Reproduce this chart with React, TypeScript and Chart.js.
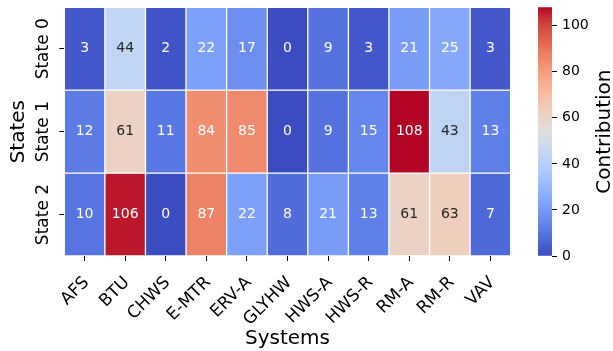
import { useEffect, useRef } from "react";
import { Chart, registerables } from "chart.js";

Chart.register(...registerables);

// ---- data ----
const systems = ["AFS", "BTU", "CHWS", "E-MTR", "ERV-A", "GLYHW", "HWS-A", "HWS-R", "RM-A", "RM-R", "VAV"];
const states = ["State 0", "State 1", "State 2"];
const state0Values = [3, 44, 2, 22, 17, 0, 9, 3, 21, 25, 3];
const state1Values = [12, 61, 11, 84, 85, 0, 9, 15, 108, 43, 13];
const state2Values = [10, 106, 0, 87, 22, 8, 21, 13, 61, 63, 7];
const heatRows = [state0Values, state1Values, state2Values];
const colorMin = 0;
const colorMax = 108;
const colorbarTicks = [0, 20, 40, 60, 80, 100];

// ---- layout / style ----
const WIDTH = 613;
const HEIGHT = 351;
const FONT = "'DejaVu Sans', 'Liberation Sans', sans-serif";
const INK = "#000000";
const DARK_ANNOT = "#262626";

// coolwarm colormap stops (blue -> grey -> red)
const COOLWARM: [number, number, number][] = [
  [59, 76, 192], [68, 90, 204], [77, 104, 215], [87, 117, 225], [98, 130, 234],
  [108, 142, 241], [119, 154, 247], [130, 165, 251], [141, 176, 254], [152, 185, 255],
  [163, 194, 255], [174, 201, 253], [184, 208, 249], [194, 213, 244], [204, 217, 238],
  [213, 219, 230], [221, 221, 221], [229, 216, 209], [236, 211, 197], [241, 204, 185],
  [245, 196, 173], [247, 187, 160], [247, 177, 148], [247, 166, 135], [244, 154, 123],
  [241, 141, 111], [236, 127, 99], [229, 112, 88], [222, 96, 77], [213, 80, 66],
  [203, 62, 56], [192, 40, 47], [180, 4, 38],
];

function coolwarm(t: number): [number, number, number] {
  const c = Math.min(1, Math.max(0, t)) * (COOLWARM.length - 1);
  const i = Math.min(Math.floor(c), COOLWARM.length - 2);
  const f = c - i;
  const a = COOLWARM[i];
  const b = COOLWARM[i + 1];
  return [a[0] + (b[0] - a[0]) * f, a[1] + (b[1] - a[1]) * f, a[2] + (b[2] - a[2]) * f];
}

function rgb(c: [number, number, number]): string {
  return `rgb(${Math.round(c[0])}, ${Math.round(c[1])}, ${Math.round(c[2])})`;
}

function luminance(c: [number, number, number]): number {
  const lin = c.map((v) => {
    const s = v / 255;
    return s <= 0.03928 ? s / 12.92 : Math.pow((s + 0.055) / 1.055, 2.4);
  });
  return 0.2126 * lin[0] + 0.7152 * lin[1] + 0.0722 * lin[2];
}

const norm = (v: number) => (v - colorMin) / (colorMax - colorMin);

// value annotations plus rotated tick labels for the heatmap
const heatText = {
  id: "heatText",
  afterDatasetsDraw(chart: any) {
    const { ctx } = chart;
    ctx.save();
    ctx.font = `14px ${FONT}`;
    ctx.textAlign = "center";
    ctx.textBaseline = "middle";
    heatRows.forEach((vals, r) => {
      const meta = chart.getDatasetMeta(r);
      meta.data.forEach((el: any, c: number) => {
        const p = el.getCenterPoint();
        const col = coolwarm(norm(vals[c]));
        ctx.fillStyle = luminance(col) > 0.55 ? DARK_ANNOT : "#ffffff";
        ctx.fillText(String(vals[c]), p.x, p.y);
      });
    });
    ctx.restore();
  },
  afterDraw(chart: any) {
    const { ctx } = chart;
    const xs = chart.scales.x;
    const ys = chart.scales.y;
    ctx.save();
    ctx.fillStyle = INK;
    ctx.font = `17px ${FONT}`;
    ctx.textBaseline = "alphabetic";
    ctx.textAlign = "right";
    systems.forEach((name, i) => {
      const x = xs.getPixelForTick(i);
      ctx.save();
      ctx.translate(x + 5, xs.top + 27);
      ctx.rotate(-Math.PI / 4);
      ctx.fillText(name, 0, 0);
      ctx.restore();
    });
    ctx.textAlign = "center";
    states.forEach((name, i) => {
      const y = ys.getPixelForValue(i);
      ctx.save();
      ctx.translate(ys.right - 16, y);
      ctx.rotate(-Math.PI / 2);
      ctx.fillText(name, 0, 0);
      ctx.restore();
    });
    ctx.restore();
  },
};

// colorbar label, reading bottom to top
const colorbarTitle = {
  id: "colorbarTitle",
  afterDraw(chart: any) {
    const { ctx, chartArea } = chart;
    ctx.save();
    ctx.fillStyle = INK;
    ctx.font = `20px ${FONT}`;
    ctx.textAlign = "center";
    ctx.textBaseline = "middle";
    ctx.translate(605, (chartArea.top + chartArea.bottom) / 2);
    ctx.rotate(-Math.PI / 2);
    ctx.fillText("Contribution", 0, 0);
    ctx.restore();
  },
};

export default function App() {
  const heatRef = useRef<HTMLCanvasElement>(null);
  const barRef = useRef<HTMLCanvasElement>(null);

  useEffect(() => {
    const heat = new Chart(heatRef.current!, {
      type: "bar",
      data: {
        labels: systems,
        datasets: heatRows.map((vals, r) => ({
          label: states[r],
          data: vals.map(() => [r - 0.5, r + 0.5]),
          backgroundColor: vals.map((v) => rgb(coolwarm(norm(v)))),
          borderColor: "#ffffff",
          borderWidth: 1,
          borderSkipped: false,
          barPercentage: 1,
          categoryPercentage: 1,
          grouped: false,
        })),
      } as any,
      options: {
        animation: false,
        responsive: false,
        devicePixelRatio: 1,
        layout: { padding: { left: 0, top: 7.3, right: 102.3, bottom: 0 } },
        plugins: { legend: { display: false }, tooltip: { enabled: false } },
        scales: {
          x: {
            type: "category",
            grid: { display: true, drawOnChartArea: false, offset: false, tickLength: 5, color: INK, lineWidth: 1 },
            border: { display: false },
            ticks: { display: false, autoSkip: false },
            title: { display: true, text: "Systems", color: INK, font: { family: FONT, size: 20 }, padding: { top: 0, bottom: 0 } },
            afterFit: (s: any) => { s.height = 95; s.paddingLeft = 0; s.paddingRight = 0; },
          },
          y: {
            type: "linear",
            min: -0.5,
            max: 2.5,
            reverse: true,
            afterBuildTicks: (s: any) => { s.ticks = states.map((_, i) => ({ value: i })); },
            grid: { display: true, drawOnChartArea: false, tickLength: 5, color: INK, lineWidth: 1 },
            border: { display: false },
            ticks: { display: false },
            title: { display: true, text: "States", color: INK, font: { family: FONT, size: 20 }, padding: { top: 7, bottom: 0 } },
            afterFit: (s: any) => { s.width = 64.3; s.paddingTop = 0; s.paddingBottom = 0; },
          },
        },
      } as any,
      plugins: [heatText],
    });

    const bar = new Chart(barRef.current!, {
      type: "bar",
      data: {
        labels: ["Contribution"],
        datasets: [
          {
            data: [[colorMin, colorMax]],
            backgroundColor: (c: any) => {
              const area = c.chart.chartArea;
              if (!area) return "transparent";
              const g = c.chart.ctx.createLinearGradient(0, area.bottom, 0, area.top);
              COOLWARM.forEach((col, i) => g.addColorStop(i / (COOLWARM.length - 1), rgb(col)));
              return g;
            },
            borderWidth: 0,
            barPercentage: 1,
            categoryPercentage: 1,
          },
        ],
      } as any,
      options: {
        animation: false,
        responsive: false,
        devicePixelRatio: 1,
        layout: { padding: { left: 538, top: 7.3, right: 0, bottom: 95 } },
        plugins: { legend: { display: false }, tooltip: { enabled: false } },
        scales: {
          x: { display: false },
          y: {
            type: "linear",
            position: "right",
            min: colorMin,
            max: colorMax,
            afterBuildTicks: (s: any) => { s.ticks = colorbarTicks.map((v) => ({ value: v })); },
            grid: { display: true, drawOnChartArea: false, tickLength: 5, color: INK, lineWidth: 1 },
            border: { display: false },
            ticks: { color: INK, font: { family: FONT, size: 14 }, padding: 5 },
            afterFit: (s: any) => { s.width = 61; s.paddingTop = 0; s.paddingBottom = 0; },
          },
        },
      } as any,
      plugins: [colorbarTitle],
    });

    return () => {
      heat.destroy();
      bar.destroy();
    };
  }, []);

  const canvasStyle = { position: "absolute" as const, left: 0, top: 0, width: WIDTH, height: HEIGHT };
  return (
    <div style={{ position: "fixed", left: 0, top: 0, width: WIDTH, height: HEIGHT, background: "#ffffff" }}>
      <canvas ref={heatRef} width={WIDTH} height={HEIGHT} style={canvasStyle} />
      <canvas ref={barRef} width={WIDTH} height={HEIGHT} style={canvasStyle} />
    </div>
  );
}
